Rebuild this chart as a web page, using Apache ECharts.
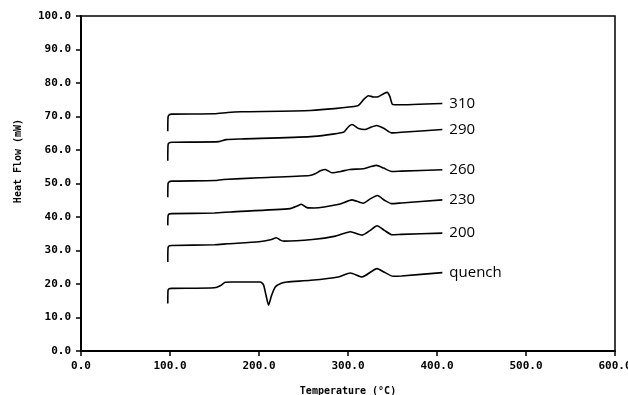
<!DOCTYPE html>
<html>
<head>
<meta charset="utf-8">
<script src="https://cdn.jsdelivr.net/npm/echarts@6/dist/echarts.min.js"></script>
<style>
  html, body { margin: 0; padding: 0; background: #fff; }
  #chart { width: 628px; height: 395px; }
</style>
</head>
<body>
<div id="chart"></div>
<script>
// Temperatura (°C) y flujo de calor (mW)
const temp310 = [97.5, 97.8, 99, 102, 150, 165, 180, 258, 311, 318, 323, 329, 334, 340, 344, 347, 350, 355, 406];
const heat310 = [65.6, 69.8, 70.5, 70.7, 70.8, 71.2, 71.4, 71.8, 73.2, 75.2, 76.2, 75.8, 75.9, 76.8, 77.2, 76.0, 73.6, 73.5, 73.9];

const temp290 = [97.5, 97.8, 99, 102, 155, 163, 180, 258, 295, 300, 304.5, 312, 319, 325, 332, 340, 349, 360, 406];
const heat290 = [56.8, 61.5, 62.1, 62.3, 62.5, 63.1, 63.3, 64.0, 65.3, 66.8, 67.6, 66.4, 66.1, 66.7, 67.3, 66.5, 65.1, 65.3, 66.1];

const temp260 = [97.5, 97.8, 99, 102, 150, 160, 200, 257, 263, 269, 274.5, 282, 292, 302, 317, 325, 332, 340, 349, 360, 406];
const heat260 = [45.9, 49.9, 50.5, 50.7, 50.9, 51.2, 51.7, 52.4, 52.9, 53.8, 54.2, 53.2, 53.6, 54.2, 54.4, 55.0, 55.4, 54.6, 53.6, 53.7, 54.1];

const temp230 = [97.5, 97.8, 99, 102, 150, 168, 235, 243, 247.5, 254, 262, 290, 304.5, 317, 325, 333, 341, 349, 360, 406];
const heat230 = [37.5, 40.3, 40.9, 41.0, 41.2, 41.5, 42.5, 43.3, 43.8, 42.8, 42.7, 43.8, 45.1, 44.1, 45.4, 46.4, 45.0, 44.0, 44.2, 45.1];

const temp200 = [97.5, 97.8, 99, 102, 150, 165, 200, 213, 219.5, 224, 228, 260, 286, 302.6, 316, 325, 332.6, 341, 349.4, 360, 406];
const heat200 = [26.6, 30.8, 31.4, 31.5, 31.7, 32.0, 32.6, 33.2, 33.8, 33.1, 32.8, 33.3, 34.3, 35.6, 34.6, 36.0, 37.4, 36.0, 34.7, 34.8, 35.2];

const tempQuench = [97.5, 97.8, 99, 102, 150, 156.5, 162, 170, 201.5, 205, 208, 210.8, 214, 218.3, 225, 231.5, 258, 289, 302.6, 315.7, 332.6, 341, 350.6, 360, 406];
const heatQuench = [14.2, 18.1, 18.6, 18.7, 18.9, 19.5, 20.5, 20.6, 20.6, 19.8, 16.5, 13.7, 16.5, 19.1, 20.2, 20.6, 21.1, 22.1, 23.3, 22.1, 24.6, 23.5, 22.3, 22.4, 23.4];

const curves = [
  { name: "310",    t: temp310,    y: heat310 },
  { name: "290",    t: temp290,    y: heat290 },
  { name: "260",    t: temp260,    y: heat260 },
  { name: "230",    t: temp230,    y: heat230 },
  { name: "200",    t: temp200,    y: heat200 },
  { name: "quench", t: tempQuench, y: heatQuench }
];

const tickFont = {
  color: "#000",
  fontFamily: "DejaVu Sans Mono",
  fontWeight: "bold",
  fontSize: 11
};

const dom = document.getElementById("chart");
const myChart = echarts.init(dom, null, { renderer: "canvas" });

const option = {
  animation: false,
  backgroundColor: "#fff",
  grid: {
    left: 81, right: 13, top: 16, bottom: 44,
    outerBoundsMode: "none",
    containLabel: false,
    show: true, borderColor: "#000", borderWidth: 1.5
  },
  xAxis: {
    type: "value",
    min: 0, max: 600, interval: 100,
    name: "Temperature (°C)",
    nameLocation: "middle",
    nameGap: 35,
    nameTextStyle: { color: "#000", fontFamily: "DejaVu Sans Mono", fontWeight: "bold", fontSize: 10 },
    axisLine: { lineStyle: { color: "#000", width: 2 } },
    axisTick: { show: true, inside: false, length: 5, lineStyle: { color: "#000", width: 1.5 } },
    axisLabel: Object.assign({ margin: 10, formatter: (v) => v.toFixed(1) }, tickFont),
    splitLine: { show: false }
  },
  yAxis: {
    type: "value",
    min: 0, max: 100, interval: 10,
    name: "Heat Flow (mW)",
    nameLocation: "middle",
    nameGap: 58,
    nameTextStyle: { color: "#000", fontFamily: "DejaVu Sans Mono", fontWeight: "bold", fontSize: 10, padding: [0, 0, 0, 45] },
    axisLine: { lineStyle: { color: "#000", width: 2 } },
    axisTick: { show: true, inside: false, length: 5, lineStyle: { color: "#000", width: 1.5 } },
    axisLabel: Object.assign({ margin: 10, formatter: (v) => v.toFixed(1) }, tickFont),
    splitLine: { show: false }
  },
  series: curves.map((c) => ({
    name: c.name,
    type: "line",
    smooth: 0.2,
    showSymbol: false,
    lineStyle: { color: "#000", width: 1.6 },
    data: c.t.map((t, i) => [t, c.y[i]]),
    endLabel: {
      show: true,
      formatter: "{a}",
      distance: 7,
      color: "#000",
      fontFamily: "Open Sans",
      fontSize: 15
    }
  }))
};

myChart.setOption(option);
</script>
</body>
</html>
